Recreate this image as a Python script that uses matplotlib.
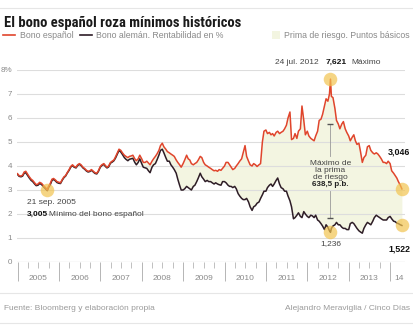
import matplotlib
matplotlib.use("Agg")
import matplotlib.pyplot as plt
from matplotlib import font_manager as fm
import numpy as np
import pandas as pd

# semi-monthly readings (1st and 15th of each month), 10-year yields in %
spain = {
    2005: [3.68, 3.60, 3.58, 3.62, 3.75, 3.78, 3.65, 3.55, 3.45, 3.40, 3.30, 3.22,
           3.25, 3.32, 3.28, 3.20, 3.12, 3.05, 3.15, 3.25, 3.45, 3.48, 3.42, 3.35],
    2006: [3.32, 3.30, 3.45, 3.55, 3.60, 3.72, 3.85, 3.98, 4.05, 3.98, 3.95, 4.05,
           4.10, 4.05, 3.95, 3.90, 3.82, 3.78, 3.80, 3.85, 3.78, 3.72, 3.70, 3.80],
    2007: [3.98, 4.05, 4.10, 4.02, 3.95, 4.00, 4.15, 4.20, 4.25, 4.38, 4.55, 4.70,
           4.65, 4.55, 4.45, 4.40, 4.35, 4.40, 4.42, 4.45, 4.30, 4.22, 4.30, 4.45],
    2008: [4.30, 4.15, 4.15, 4.20, 4.12, 4.05, 4.20, 4.30, 4.40, 4.50, 4.65, 4.85,
           4.95, 4.80, 4.70, 4.60, 4.55, 4.50, 4.45, 4.40, 4.25, 4.15, 4.05, 3.95],
    2009: [4.10, 4.25, 4.45, 4.30, 4.25, 4.10, 4.05, 4.10, 4.15, 4.25, 4.40, 4.35,
           4.15, 4.05, 4.00, 3.95, 3.90, 3.85, 3.80, 3.82, 3.78, 3.85, 3.82, 3.90],
    2010: [4.00, 4.15, 4.15, 4.05, 3.95, 3.85, 3.90, 4.00, 4.10, 4.20, 4.30, 4.55,
           4.85, 4.40, 4.20, 4.05, 4.00, 4.10, 4.05, 3.98, 4.05, 4.10, 5.00, 5.45],
    2011: [5.50, 5.35, 5.40, 5.30, 5.35, 5.25, 5.40, 5.45, 5.35, 5.40, 5.45, 5.55,
           5.70, 6.00, 6.25, 5.10, 5.15, 5.35, 5.15, 5.45, 5.55, 6.50, 5.90, 5.30],
    2012: [5.45, 5.25, 5.15, 5.10, 5.05, 5.25, 5.45, 5.90, 5.95, 6.15, 6.50, 6.80,
           6.70, 7.00, 6.90, 6.85, 6.40, 5.90, 5.75, 5.55, 5.75, 5.85, 5.55, 5.40],
    2013: [5.25, 5.05, 5.20, 5.30, 5.05, 4.90, 4.95, 4.60, 4.15, 4.35, 4.45, 4.80,
           4.85, 4.65, 4.55, 4.50, 4.55, 4.50, 4.40, 4.30, 4.15, 4.15, 4.10, 4.20],
    2014: [4.10, 3.80, 3.70, 3.60, 3.50, 3.35, 3.20, 3.046],
}
germany = {
    2005: [3.65, 3.57, 3.55, 3.58, 3.70, 3.72, 3.60, 3.50, 3.40, 3.35, 3.25, 3.18,
           3.20, 3.27, 3.23, 3.15, 3.07, 3.00, 3.10, 3.20, 3.40, 3.44, 3.38, 3.31],
    2006: [3.28, 3.27, 3.42, 3.52, 3.58, 3.70, 3.82, 3.95, 4.02, 3.95, 3.92, 4.02,
           4.07, 4.02, 3.92, 3.87, 3.79, 3.75, 3.77, 3.82, 3.75, 3.69, 3.67, 3.77],
    2007: [3.95, 4.02, 4.07, 3.98, 3.92, 3.96, 4.12, 4.16, 4.22, 4.33, 4.50, 4.65,
           4.58, 4.48, 4.35, 4.28, 4.22, 4.28, 4.30, 4.32, 4.15, 4.05, 4.15, 4.30],
    2008: [4.10, 3.95, 3.92, 3.90, 3.80, 3.72, 3.95, 4.05, 4.10, 4.25, 4.45, 4.65,
           4.70, 4.55, 4.35, 4.20, 4.20, 4.05, 3.95, 3.85, 3.70, 3.45, 3.20, 3.00],
    2009: [3.00, 3.05, 3.15, 3.10, 3.05, 3.00, 3.15, 3.20, 3.35, 3.50, 3.70, 3.55,
           3.45, 3.35, 3.40, 3.35, 3.35, 3.30, 3.25, 3.30, 3.25, 3.22, 3.20, 3.35],
    2010: [3.35, 3.30, 3.20, 3.15, 3.15, 3.10, 3.15, 3.05, 2.85, 2.75, 2.65, 2.60,
           2.60, 2.65, 2.50, 2.30, 2.15, 2.30, 2.35, 2.45, 2.50, 2.65, 2.80, 2.95],
    2011: [2.95, 3.10, 3.20, 3.25, 3.15, 3.25, 3.40, 3.50, 3.25, 3.10, 3.05, 2.95,
           2.95, 2.75, 2.55, 2.30, 1.80, 1.85, 1.95, 2.05, 1.90, 1.85, 2.10, 2.00],
    2012: [1.90, 1.85, 1.95, 1.92, 1.85, 1.95, 1.75, 1.70, 1.60, 1.50, 1.35, 1.55,
           1.45, 1.30, 1.40, 1.50, 1.55, 1.65, 1.55, 1.55, 1.45, 1.40, 1.40, 1.35],
    2013: [1.35, 1.60, 1.65, 1.60, 1.50, 1.40, 1.30, 1.25, 1.20, 1.40, 1.55, 1.65,
           1.60, 1.55, 1.70, 1.85, 1.95, 1.90, 1.85, 1.80, 1.75, 1.75, 1.75, 1.85],
    2014: [1.90, 1.80, 1.70, 1.68, 1.62, 1.60, 1.55, 1.522],
}

# the marked days
min_date, min_es, min_de = "2005-09-21", 3.005, 2.97
max_date, max_es, max_de = "2012-07-24", 7.621, 1.236
spread_max = "638,5 p.b."

es_vals = sum((spain[y] for y in sorted(spain)), [])
de_vals = sum((germany[y] for y in sorted(germany)), [])
dates = pd.date_range("2005-01-01", periods=len(es_vals), freq="SMS")

df = pd.DataFrame({"es": es_vals, "de": de_vals}, index=dates)
extra = pd.DataFrame({"es": [min_es, max_es], "de": [min_de, max_de]},
                     index=pd.to_datetime([min_date, max_date]))
df = pd.concat([df, extra]).sort_index()


def dec_year(d):
    d = pd.DatetimeIndex(d)
    days = np.where(d.is_leap_year, 366, 365)
    return d.year + (d.dayofyear - 1) / days


t = dec_year(df.index)
t_min = dec_year([min_date])[0]
t_max = dec_year([max_date])[0]
t_end = t[-1]

RED = "#e0452c"
DARK = "#2e1d27"
FILL = "#f3f5e1"
GOLD = "#f2c450"
GRID = "#dddddd"
GREY = "#8a8a8a"
TXT = "#444444"

plt.rcParams["font.family"] = ["Liberation Sans", "DejaVu Sans"]

# a narrow bold face for the title, if one is installed
names = {f.name for f in fm.fontManager.ttflist}
title_font = {"family": ["DejaVu Sans"], "stretch": "condensed", "size": 8.8}
for cand in ["Liberation Sans Narrow", "Roboto Condensed", "Open Sans Condensed"]:
    if cand in names:
        title_font = {"family": [cand, "DejaVu Sans"], "size": 10.5}
        break
else:
    cond = [f for f in fm.fontManager.ttflist
            if f.name == "DejaVu Sans" and f.stretch == "condensed"]
    if cond:
        title_font = {"family": ["DejaVu Sans"], "stretch": "condensed", "size": 9.8}

W, H = 414, 331
fig = plt.figure(figsize=(W / 100, H / 100), dpi=100)


def px(x, y):
    return x / W, 1 - y / H


ax = fig.add_axes([17.5 / W, 1 - 262 / H, 387.5 / W, 192 / H])
ax.set_xlim(2005, 2005 + 387.5 / 41.4)
ax.set_ylim(0, 8)

ax.fill_between(t, df["de"], df["es"], color=FILL, lw=0, zorder=1)
ax.plot(t, df["de"], color=DARK, lw=1.1, zorder=3)
ax.plot(t, df["es"], color=RED, lw=1.1, zorder=4)

for s in ax.spines.values():
    s.set_visible(False)
ax.set_yticks(range(0, 9))
ax.set_yticklabels(["0", "1", "2", "3", "4", "5", "6", "7", "8%"])
ax.yaxis.grid(True, color=GRID, lw=0.8, zorder=0)
ax.tick_params(axis="y", length=0, pad=4, labelsize=5.8, labelcolor=GREY)

years = list(range(2005, 2015))
ax.set_xticks(years)
ax.set_xticklabels([])
ax.set_xticks([y + q / 4 for y in years[:-1] for q in (1, 2, 3)], minor=True)
ax.tick_params(axis="x", which="major", length=14, width=0.7, color="#b5b5b5")
ax.tick_params(axis="x", which="minor", length=4.5, width=0.6, color="#b5b5b5")
ax.axhline(0, color="#c8c8c8", lw=0.8, zorder=0)

lab_tf = ax.get_xaxis_transform()
for y in years[:-1]:
    ax.text(y + 0.5, -0.085, str(y), transform=lab_tf, ha="center", va="center",
            fontsize=6, color=GREY)
ax.text(2014.22, -0.085, "14", transform=lab_tf, ha="center", va="center",
        fontsize=6, color=GREY)

# highlighted points
pts_t = [t_min, t_max, t_max, t_end, t_end]
pts_v = [min_es, max_es, max_de, df["es"].iloc[-1], df["de"].iloc[-1]]
ax.scatter(pts_t, pts_v, s=95, color=GOLD, alpha=0.7, lw=0, zorder=5, clip_on=False)

# spread marker at the maximum
ax.plot([t_max, t_max], [5.7, 4.4], color="#9a9a9a", lw=0.6, zorder=2)
ax.plot([t_max, t_max], [2.95, 1.85], color="#9a9a9a", lw=0.6, zorder=2)
ax.plot([t_max, t_max], [5.73, 1.83], ls="none", marker="_", ms=4, mew=1.0,
        color="#555555", zorder=2)

ax.text(t_max, 4.25, "Máximo de\nla prima\nde riesgo", ha="center", va="top",
        fontsize=6, color=TXT, linespacing=1.05, zorder=6)
ax.text(t_max, 3.22, spread_max, ha="center", va="center", fontsize=5.8,
        color="#222222", fontweight="bold", zorder=6)
ax.text(t_max, 0.75, "1,236", ha="center", va="center", fontsize=6, color=TXT)

fig.text(*px(27, 203), "21 sep. 2005", ha="left", va="center", fontsize=6, color=TXT)
fig.text(*px(27, 214), "3,005", ha="left", va="center", fontsize=6,
         color="#111111", fontweight="bold")
fig.text(*px(49.5, 214), "Mínimo del bono español", ha="left", va="center",
         fontsize=6, color=TXT)

fig.text(*px(275, 62), "24 jul. 2012", ha="left", va="center", fontsize=6, color=TXT)
fig.text(*px(326, 62), "7,621", ha="left", va="center", fontsize=6,
         color="#111111", fontweight="bold")
fig.text(*px(351, 62), "Máximo", ha="left", va="center", fontsize=6, color=TXT)

fig.text(*px(410, 152), "3,046", ha="right", va="center", fontsize=6.4,
         color="#111111", fontweight="bold")
fig.text(*px(410, 249), "1,522", ha="right", va="center", fontsize=6.4,
         color="#111111", fontweight="bold")

# title, legend, footer
fig.text(*px(4, 23), "El bono español roza mínimos históricos", ha="left",
         va="center", fontweight="bold", color="#1a1a1a", fontdict=title_font)

fig.add_artist(plt.Line2D([3 / W, 15 / W], [1 - 35 / H] * 2, color=RED, lw=1.2))
fig.text(*px(20, 35), "Bono español", ha="left", va="center", fontsize=6.3, color=GREY)
fig.add_artist(plt.Line2D([80 / W, 92 / W], [1 - 35 / H] * 2, color=DARK, lw=1.2))
fig.text(*px(96, 35), "Bono alemán. Rentabilidad en %", ha="left", va="center",
         fontsize=6.3, color=GREY)
fig.add_artist(plt.Rectangle((272 / W, 1 - 39 / H), 8 / W, 8 / H, color=FILL, lw=0))
fig.text(*px(284, 35), "Prima de riesgo. Puntos básicos", ha="left", va="center",
         fontsize=6.3, color=GREY)

for yy in (8, 293, 323):
    fig.add_artist(plt.Line2D([0, 1], [1 - yy / H] * 2, color="#e6e6e6", lw=0.8))

fig.text(*px(4, 308), "Fuente: Bloomberg y elaboración propia", ha="left",
         va="center", fontsize=6, color="#9a9a9a")
fig.text(*px(410, 308), "Alejandro Meraviglia / Cinco Días", ha="right",
         va="center", fontsize=6, color="#9a9a9a")

fig.savefig("out.png", dpi=100)
